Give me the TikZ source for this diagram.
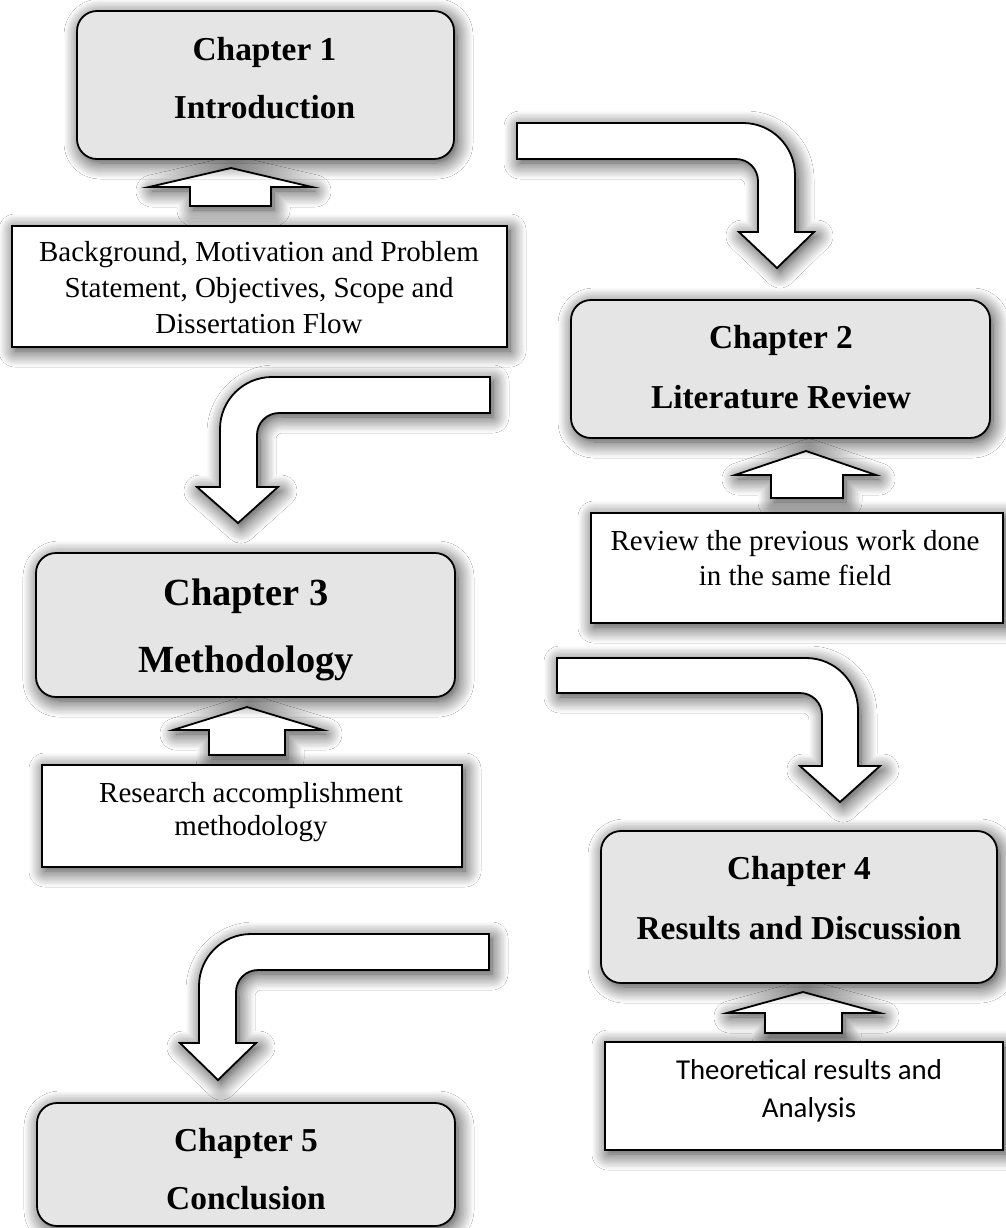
\documentclass[tikz,border=0pt]{standalone}
\usepackage{fontspec}
\setmainfont{Liberation Serif}
\newfontfamily\calfont{Carlito}
\usetikzlibrary{shadows.blur}
\definecolor{boxgray}{RGB}{229,229,229}
\begin{document}
\begin{tikzpicture}[x=0.5pt,y=-0.5pt,
  glow/.style={blur shadow={shadow xshift=1.5pt, shadow yshift=-2pt, shadow blur radius=8pt, shadow opacity=80, shadow blur steps=12}},
  chbox/.style={draw=black, line width=0.9pt, fill=boxgray, rounded corners=10pt, glow, inner sep=0pt, outer sep=0pt},
  txbox/.style={draw=black, line width=0.9pt, fill=white, glow, inner sep=0pt, outer sep=0pt},
  blockarrow/.style={draw=black, line width=0.9pt, fill=white, line join=miter, glow},
  chtitle/.style={anchor=base, inner sep=0pt, font=\fontsize{16.7}{20}\selectfont\bfseries},
  chbig/.style={anchor=base, inner sep=0pt, font=\fontsize{19.2}{23}\selectfont\bfseries},
  bodytext/.style={anchor=base, inner sep=0pt, font=\fontsize{14.5}{17.5}\selectfont},
  caltext/.style={anchor=base, inner sep=0pt, font=\calfont\fontsize{14.4}{19}\selectfont}]
\fill[white] (0,0) rectangle (1006,1228);
\useasboundingbox (0,0) rectangle (1006,1228);

% curved arrows
\path[blockarrow] (517,123) -- (743,123) .. controls (771.7,123) and (795,146.3) .. (795,175) -- (795,232) -- (814,232) -- (777,268) -- (739,232) -- (758,232) -- (758,181) .. controls (758,168.85) and (748.15,159) .. (736,159) -- (517,159) -- cycle;
\path[blockarrow] (490,377) -- (272,377) .. controls (243.3,377) and (220,400.3) .. (220,429) -- (220,487) -- (197,487) -- (238,523) -- (278,487) -- (257,487) -- (257,435) .. controls (257,422.85) and (266.85,413) .. (279,413) -- (490,413) -- cycle;
\path[blockarrow] (557,658) -- (806,658) .. controls (834.7,658) and (858,681.3) .. (858,710) -- (858,766) -- (880,766) -- (840,802) -- (800,766) -- (822,766) -- (822,715) .. controls (822,702.85) and (812.15,693) .. (800,693) -- (557,693) -- cycle;
\path[blockarrow] (489,934) -- (251,934) .. controls (222.3,934) and (199,957.3) .. (199,986) -- (199,1043) -- (180,1043) -- (218,1080) -- (256,1043) -- (236,1043) -- (236,992) .. controls (236,979.85) and (245.85,970) .. (258,970) -- (489,970) -- cycle;

% up arrows
\path[blockarrow] (190,206) -- (190,187) -- (149,187) -- (231,168) -- (312,187) -- (271,187) -- (271,206) -- cycle;
\path[blockarrow] (771,498) -- (771,475) -- (735,475) -- (806,451) -- (876,475) -- (843,475) -- (843,498) -- cycle;
\path[blockarrow] (209,755) -- (209,730) -- (173,730) -- (247,707) -- (323,730) -- (285,730) -- (285,755) -- cycle;
\path[blockarrow] (765,1033) -- (765,1013) -- (727,1013) -- (803,992) -- (880,1013) -- (842,1013) -- (842,1033) -- cycle;

% boxes
\node[chbox, minimum width=188.5pt, minimum height=74pt] (ch1) at (265.5,85) {};
\node[txbox, minimum width=247.5pt, minimum height=60.5pt] (bg) at (259.5,286.5) {};
\node[chbox, minimum width=209.5pt, minimum height=69pt] (ch2) at (780.5,369) {};
\node[txbox, minimum width=206pt, minimum height=55pt] (rev) at (797,568) {};
\node[chbox, minimum width=209.5pt, minimum height=72pt] (ch3) at (245.5,625) {};
\node[txbox, minimum width=210pt, minimum height=51pt] (res) at (252,816) {};
\node[chbox, minimum width=198pt, minimum height=76pt] (ch4) at (799,907) {};
\node[txbox, minimum width=199pt, minimum height=54pt] (th) at (804,1096) {};
\node[chbox, minimum width=209pt, minimum height=61.5pt] (ch5) at (246,1164.5) {};

% texts
\node[chtitle] (ch1a) at (264.5,60) {Chapter 1};
\node[chtitle] (ch1b) at (264.5,118) {Introduction};
\node[bodytext] (bg1) at (259,261) {Background, Motivation and Problem};
\node[bodytext] (bg2) at (259,297) {Statement, Objectives, Scope and};
\node[bodytext] (bg3) at (259,333) {Dissertation Flow};
\node[chtitle] (ch2a) at (781,348) {Chapter 2};
\node[chtitle] (ch2b) at (781,408) {Literature Review};
\node[bodytext] (rev1) at (795,550) {Review the previous work done};
\node[bodytext] (rev2) at (795,585) {in the same field};
\node[chbig] (ch3a) at (246,605) {Chapter 3};
\node[chbig] (ch3b) at (246,672) {Methodology};
\node[bodytext] (res1) at (251,802) {Research accomplishment};
\node[bodytext] (res2) at (251,835) {methodology};
\node[chtitle] (ch4a) at (799,879) {Chapter 4};
\node[chtitle] (ch4b) at (799,939) {Results and Discussion};
\node[caltext] (th1) at (809,1079) {Theoretical results and};
\node[caltext] (th2) at (809,1117) {Analysis};
\node[chtitle] (ch5a) at (246,1151) {Chapter 5};
\node[chtitle] (ch5b) at (246,1209) {Conclusion};
\end{tikzpicture}
\end{document}
